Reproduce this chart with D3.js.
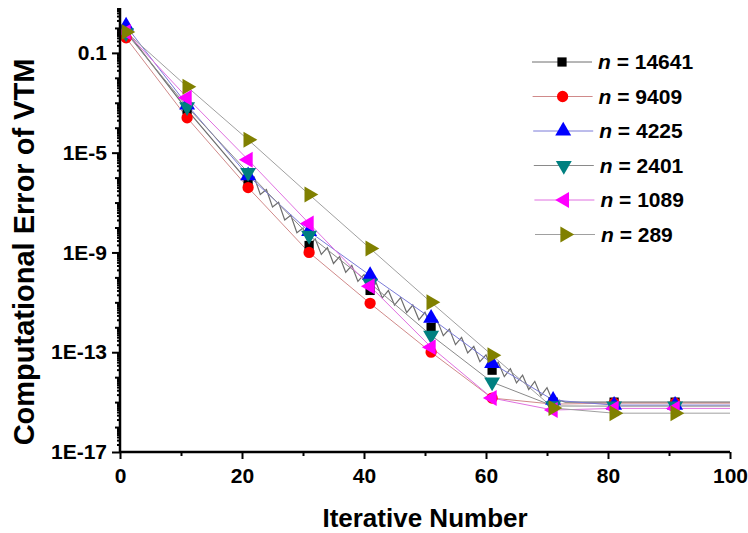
<!DOCTYPE html>
<html>
<head>
<meta charset="utf-8">
<script src="https://cdn.jsdelivr.net/npm/d3@7"></script>
<style>
  body { margin: 0; background: #fff; }
  text { font-family: Arial, "Liberation Sans", sans-serif; font-weight: bold; }
</style>
</head>
<body>
<div id="chart"></div>
<script>
// values
const markerIters = [1, 11, 21, 31, 41, 51, 61, 71, 81, 91];
const lastIter = 100;

const err14641 = [0.76, 5.2e-4, 6.9e-7, 1.9e-9, 3.0e-11, 1.0e-12, 1.9e-14, 1.0e-15, 1.0e-15, 1.0e-15];
const err9409  = [0.40, 2.5e-4, 4.0e-7, 1.0e-9, 9.1e-12, 1.0e-13, 1.45e-15, 8.3e-16, 9.1e-16, 9.1e-16];
const err4225  = [1.2, 8.3e-4, 1.2e-6, 6.9e-9, 1.2e-10, 2.3e-12, 3.6e-14, 1.2e-15, 7.6e-16, 7.6e-16];
const err2401  = [0.63, 6.9e-4, 1.6e-6, 4.8e-9, 5.8e-11, 4.8e-13, 6.3e-15, 7.0e-16, 6.9e-16, 6.9e-16];
const err1089  = [0.69, 1.6e-3, 5.2e-6, 1.45e-8, 4.4e-11, 1.6e-13, 1.45e-15, 4.8e-16, 5.6e-16, 5.6e-16];
const err289   = [0.69, 4.4e-3, 3.3e-5, 2.1e-7, 1.45e-9, 1.0e-11, 7.6e-14, 5.8e-16, 3.6e-16, 3.6e-16];

// the n = 14641 curve oscillates between iterations 21 and 73
const zigIters = [21, 22, 23, 24, 25, 26, 27, 28, 29, 30, 31, 32, 33, 34, 35, 36, 37, 38, 39, 40,
  41, 42, 43, 44, 45, 46, 47, 48, 49, 50, 51, 52, 53, 54, 55, 56, 57, 58, 59, 60,
  61, 62, 63, 64, 65, 66, 67, 68, 69, 70, 71, 72, 73];
const zigErr14641 = [6.9e-7, 1.07e-6, 2.1e-7, 3.3e-7, 6.6e-8, 1.02e-7, 2.0e-8, 3.1e-8, 6.2e-9, 9.5e-9,
  1.9e-9, 3.5e-9, 8.3e-10, 1.55e-9, 3.6e-10, 6.8e-10, 1.6e-10, 3.0e-10, 6.9e-11, 1.3e-10,
  3.0e-11, 6.0e-11, 1.5e-11, 3.0e-11, 7.8e-12, 1.55e-11, 3.9e-12, 7.8e-12, 2.0e-12, 4.0e-12,
  1.0e-12, 1.9e-12, 4.6e-13, 8.5e-13, 2.0e-13, 3.9e-13, 9.3e-14, 1.7e-13, 4.2e-14, 7.9e-14,
  1.9e-14, 4.0e-14, 1.05e-14, 2.2e-14, 5.9e-15, 1.2e-14, 3.2e-15, 6.8e-15, 1.8e-15, 3.8e-15,
  1.0e-15, 1.2e-15, 1.0e-15];

const seriesNames = ["n = 14641", "n = 9409", "n = 4225", "n = 2401", "n = 1089", "n = 289"];
const seriesErr = [err14641, err9409, err4225, err2401, err1089, err289];
const markerColors = ["#000000", "#ff0000", "#0000ff", "#008080", "#ff00ff", "#808000"];
const lineColors = ["#6e6e6e", "#d08a8a", "#7a7ad8", "#8a8a8a", "#e070e0", "#a0a0a0"];
const markerShapes = ["square", "circle", "up", "down", "left", "right"];

const xTicks = [0, 20, 40, 60, 80, 100];
const xMinorTicks = [10, 30, 50, 70, 90];
const yTicks = [0.1, 1e-5, 1e-9, 1e-13, 1e-17];
const yTickLabels = ["0.1", "1E-5", "1E-9", "1E-13", "1E-17"];

const width = 748, height = 533;
const margin = {top: 8, right: 18, bottom: 81, left: 120};
const yTop = 6.3, yBottom = 1e-17;

let svg = d3.select("#chart")
  .append("svg")
  .attr("width", width)
  .attr("height", height);

let x = d3.scaleLinear()
  .domain([0, 100])
  .range([margin.left, width - margin.right]);

let y = d3.scaleLog()
  .domain([yBottom, yTop])
  .range([height - margin.bottom, margin.top]);

// build line data for each series
let lines = seriesErr.map(function(errs, i) {
  let pts = [];
  markerIters.forEach(function(it, j) { pts.push({it: it, e: errs[j]}); });
  pts.push({it: lastIter, e: errs[errs.length - 1]});
  if (i == 0) {
    pts = pts.filter(function(p) { return p.it < zigIters[0] || p.it > zigIters[zigIters.length - 1]; });
    zigIters.forEach(function(it, j) { pts.push({it: it, e: zigErr14641[j]}); });
    pts.sort(function(a, b) { return a.it - b.it; });
  }
  return pts;
});

let lineGen = d3.line()
  .x(function(d) { return x(d.it); })
  .y(function(d) { return y(d.e); });

svg.append("g")
  .selectAll("path")
  .data(lines)
  .enter()
  .append("path")
  .attr("d", lineGen)
  .attr("fill", "none")
  .attr("stroke", function(d, i) { return lineColors[i]; })
  .attr("stroke-width", function(d, i) { return i == 0 ? 1.2 : 1; });

// marker shapes
function markerPath(shape) {
  if (shape == "square") return d3.symbol().type(d3.symbolSquare).size(85)();
  if (shape == "circle") return d3.symbol().type(d3.symbolCircle).size(100)();
  return d3.symbol().type(d3.symbolTriangle).size(110)();
}
function markerRotate(shape) {
  if (shape == "down") return 180;
  if (shape == "left") return -90;
  if (shape == "right") return 90;
  return 0;
}

seriesErr.forEach(function(errs, i) {
  svg.append("g")
    .selectAll("path")
    .data(errs)
    .enter()
    .append("path")
    .attr("d", markerPath(markerShapes[i]))
    .attr("transform", function(d, j) {
      return `translate(${x(markerIters[j])}, ${y(d)}) rotate(${markerRotate(markerShapes[i])})`;
    })
    .attr("fill", markerColors[i]);
});

// x axis
let xAxis = svg.append("g")
  .attr("transform", `translate(0, ${height - margin.bottom})`)
  .call(d3.axisBottom(x).tickValues(xTicks).tickSize(7).tickPadding(9));
svg.append("g")
  .attr("transform", `translate(0, ${height - margin.bottom})`)
  .call(d3.axisBottom(x).tickValues(xMinorTicks).tickSize(4).tickFormat(""))
  .call(g => g.select(".domain").remove());

// y axis: minor ticks for each decade and 2..9 within it
let decades = [], subs = [];
for (let p = -17; p <= 0; p++) {
  if (!yTicks.some(t => Math.abs(Math.log10(t) - p) < 1e-6)) decades.push(Math.pow(10, p));
  for (let k = 2; k <= 9; k++) {
    let v = k * Math.pow(10, p);
    if (v <= yTop) subs.push(v);
  }
}
svg.append("g")
  .attr("transform", `translate(${margin.left}, 0)`)
  .call(d3.axisLeft(y).tickValues(subs).tickSize(3).tickFormat(""))
  .call(g => g.select(".domain").remove());
svg.append("g")
  .attr("transform", `translate(${margin.left}, 0)`)
  .call(d3.axisLeft(y).tickValues(decades).tickSize(5).tickFormat(""))
  .call(g => g.select(".domain").remove());
let yAxis = svg.append("g")
  .attr("transform", `translate(${margin.left}, 0)`)
  .call(d3.axisLeft(y).tickValues(yTicks).tickSize(8).tickPadding(5)
    .tickFormat(function(d, i) { return yTickLabels[i]; }));

svg.selectAll(".domain").attr("stroke-width", 2.5).attr("stroke", "#000");
svg.selectAll(".tick line").attr("stroke-width", 2).attr("stroke", "#000");
svg.selectAll(".tick text")
  .style("font-size", "21px")
  .style("font-family", "Arial, 'Liberation Sans', sans-serif")
  .style("font-weight", "bold")
  .attr("fill", "#000");
xAxis.select(".domain").attr("d", `M${x(0)},0H${x(100)}`);
yAxis.select(".domain").attr("d", `M0,${y(yTop)}V${y(yBottom)}`);

// axis titles
svg.append("text")
  .attr("transform", `translate(${(x(0) + x(100)) / 2}, 527)`)
  .style("text-anchor", "middle")
  .style("font-size", "26px")
  .text("Iterative Number");

svg.append("text")
  .attr("transform", `translate(34, 252) rotate(-90)`)
  .style("text-anchor", "middle")
  .style("font-size", "29px")
  .text("Computational Error of VTM");

// legend
let legend = svg.append("g").attr("transform", "translate(532, 62)");
let rows = legend.selectAll("g")
  .data(seriesNames)
  .enter()
  .append("g")
  .attr("transform", function(d, i) { return `translate(${i * 0.6}, ${i * 34.5})`; });
rows.append("line")
  .attr("x1", 0).attr("x2", 60)
  .attr("stroke", function(d, i) { return lineColors[i]; })
  .attr("stroke-width", 1);
rows.append("path")
  .attr("d", function(d, i) { return markerPath(markerShapes[i]); })
  .attr("transform", function(d, i) { return `translate(30, 0) rotate(${markerRotate(markerShapes[i])})`; })
  .attr("fill", function(d, i) { return markerColors[i]; });
let labels = rows.append("text")
  .attr("x", 66)
  .attr("y", 7)
  .style("font-size", "21px");
labels.append("tspan").style("font-style", "italic").text("n");
labels.append("tspan").text(function(d) { return d.slice(1); });
</script>
</body>
</html>
